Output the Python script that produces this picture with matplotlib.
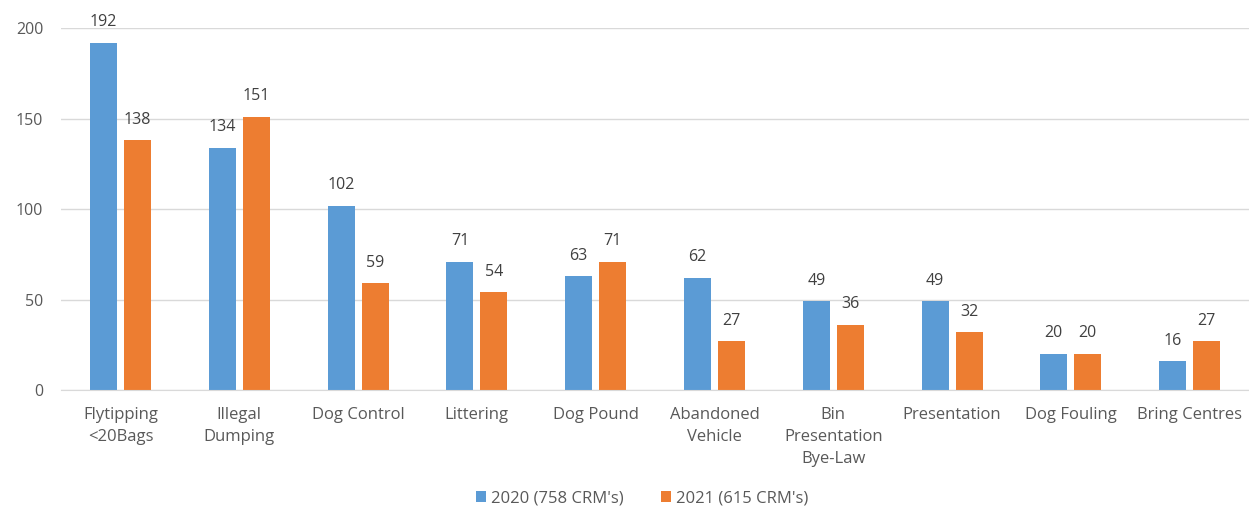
import matplotlib.pyplot as plt
import numpy as np

categories = ["Flytipping\n<20Bags", "Illegal\nDumping", "Dog Control", "Littering",
              "Dog Pound", "Abandoned\nVehicle", "Bin\nPresentation\nBye-Law",
              "Presentation", "Dog Fouling", "Bring Centres"]
values_2020 = [192, 134, 102, 71, 63, 62, 49, 49, 20, 16]
values_2021 = [138, 151, 59, 54, 71, 27, 36, 32, 20, 27]
series_labels = ["2020 (758 CRM's)", "2021 (615 CRM's)"]

BLUE = "#5B9BD5"
ORANGE = "#ED7D31"
TEXT = "#595959"

plt.rcParams["font.family"] = ["Open Sans", "DejaVu Sans"]

fig = plt.figure(figsize=(12.49, 5.12), dpi=100)
ax = fig.add_axes([0.049, 0.238, 0.951, 0.707])

x = np.arange(len(categories))
w = 0.227
off = 0.143
b1 = ax.bar(x - off, values_2020, w, color=BLUE, label=series_labels[0], zorder=2)
b2 = ax.bar(x + off, values_2021, w, color=ORANGE, label=series_labels[1], zorder=2)

for bars in (b1, b2):
    for rect in bars:
        h = rect.get_height()
        ax.annotate(f"{h:.0f}", (rect.get_x() + rect.get_width() / 2, h),
                    xytext=(0, 9), textcoords="offset points",
                    ha="center", va="bottom", fontsize=11.5, color="#404040")

ax.set_xlim(-0.5, len(categories) - 0.5)
ax.set_ylim(0, 200)
ax.set_yticks([0, 50, 100, 150, 200])
ax.yaxis.grid(True, color="#D9D9D9", linewidth=1, zorder=0)
ax.set_axisbelow(True)
for s in ["top", "right", "left"]:
    ax.spines[s].set_visible(False)
ax.spines["bottom"].set_color("#D9D9D9")
ax.tick_params(axis="both", length=0, colors=TEXT, labelsize=11.5)
ax.tick_params(axis="y", pad=13)
ax.tick_params(axis="x", pad=12)
ax.set_xticks(x)
ax.set_xticklabels(categories, linespacing=1.5, fontsize=12)

fig.legend(loc="lower center", bbox_to_anchor=(0.514, -0.018), ncol=2, frameon=False,
           fontsize=12, labelcolor=TEXT, handlelength=0.6, handleheight=0.6,
           handletextpad=0.3, columnspacing=2.2)

fig.savefig("out.png", dpi=100)
